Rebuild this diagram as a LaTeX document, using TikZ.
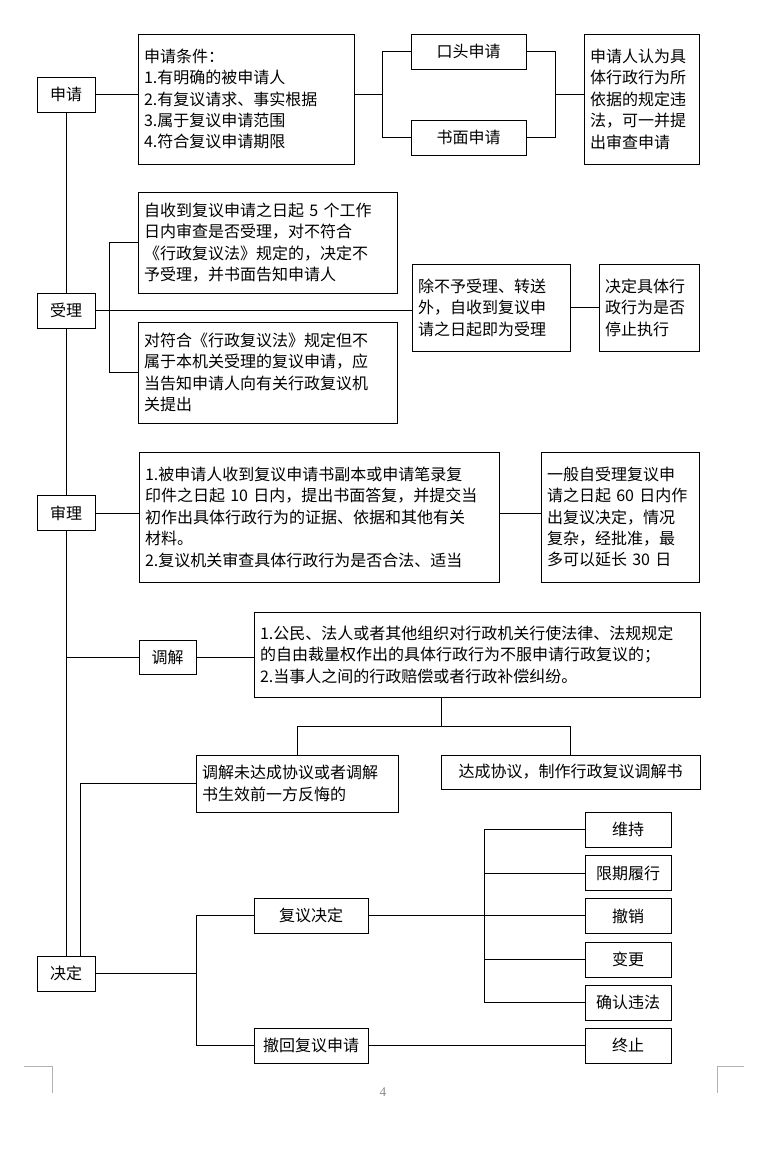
\documentclass[tikz,border=0pt]{standalone}
\usepackage{fontspec}
\setmainfont{Noto Sans CJK SC}
\newfontfamily\pagenumfont{Liberation Serif}
\usepackage{tikz}
\pgfdeclarelayer{edgelayer}
\pgfdeclarelayer{nodelayer}
\pgfsetlayers{edgelayer,nodelayer,main}
\tikzstyle{none}=[inner sep=0mm]
\tikzstyle{box}=[draw=black,fill=white,inner xsep=4.5pt,inner ysep=2pt,font=\fontsize{12}{16.1}\selectfont]
\tikzstyle{textbox}=[box,align=left]
\tikzstyle{tag}=[box,minimum width=43.5pt,minimum height=26.25pt]
\tikzstyle{leaf}=[box,minimum width=64.5pt,minimum height=26.25pt]
\tikzstyle{stepbox}=[box,minimum width=85.5pt,minimum height=26.25pt]
\tikzstyle{pagemark}=[draw=black!30,line width=0.6pt]
\begin{document}
\begin{tikzpicture}[x=0.75pt,y=-0.75pt,line width=0.8pt]
	\useasboundingbox (0,0) rectangle (764,1159);
	\begin{pgfonlayer}{nodelayer}
		\node [style=tag] (0) at (66, 94.5) {申请};
		\node [style=textbox, text width=153pt, minimum height=97.5pt] (1) at (246, 99) {申请条件：\\1.有明确的被申请人\\2.有复议请求、事实根据\\3.属于复议申请范围\\4.符合复议申请期限};
		\node [style=box, minimum width=86.25pt, minimum height=26.25pt] (2) at (468.5, 51.5) {口头申请};
		\node [style=box, minimum width=86.25pt, minimum height=26.25pt] (3) at (468.5, 137.5) {书面申请};
		\node [style=textbox, text width=77.25pt, minimum height=97.5pt] (4) at (641.5, 99) {申请人认为具\\体行政行为所\\依据的规定违\\法，可一并提\\出审查申请};
		\node [style=tag] (5) at (66, 310.5) {受理};
		\node [style=textbox, text width=185.25pt, minimum height=75.75pt] (6) at (267.5, 242.5) {自收到复议申请之日起 5 个工作\\日内审查是否受理，对不符合\\《行政复议法》规定的，决定不\\予受理，并书面告知申请人};
		\node [style=textbox, text width=185.25pt, minimum height=75.75pt] (7) at (267.5, 372.5) {对符合《行政复议法》规定但不\\属于本机关受理的复议申请，应\\当告知申请人向有关行政复议机\\关提出};
		\node [style=textbox, text width=109.5pt, minimum height=65.25pt] (8) at (491, 307.5) {除不予受理、转送\\外，自收到复议申\\请之日起即为受理};
		\node [style=textbox, text width=66pt, minimum height=65.25pt] (9) at (649, 307.5) {决定具体行\\政行为是否\\停止执行};
		\node [style=tag] (10) at (66, 513) {审理};
		\node [style=textbox, text width=261pt, minimum height=97.5pt] (11) at (319, 517) {1.被申请人收到复议申请书副本或申请笔录复\\印件之日起 10 日内，提出书面答复，并提交当\\初作出具体行政行为的证据、依据和其他有关\\材料。\\2.复议机关审查具体行政行为是否合法、适当};
		\node [style=textbox, text width=109.5pt, minimum height=97.5pt] (12) at (620, 517) {一般自受理复议申\\请之日起 60 日内作\\出复议决定，情况\\复杂，经批准，最\\多可以延长 30 日};
		\node [style=tag, minimum width=42.75pt, minimum height=25.5pt] (13) at (167.5, 657) {调解};
		\node [style=textbox, text width=325.5pt, minimum height=63.75pt] (14) at (477, 654.5) {1.公民、法人或者其他组织对行政机关行使法律、法规规定\\的自由裁量权作出的具体行政行为不服申请行政复议的；\\2.当事人之间的行政赔偿或者行政补偿纠纷。};
		\node [style=textbox, text width=142.5pt, minimum height=42.75pt] (15) at (297, 783.5) {调解未达成协议或者调解\\书生效前一方反悔的};
		\node [style=box, minimum width=194.25pt, minimum height=25.5pt] (16) at (570.5, 772) {达成协议，制作行政复议调解书};
		\node [style=tag] (17) at (66, 973.5) {决定};
		\node [style=stepbox] (18) at (311, 915.5) {复议决定};
		\node [style=stepbox] (19) at (311, 1045.5) {撤回复议申请};
		\node [style=leaf] (20) at (628, 829.5) {维持};
		\node [style=leaf] (21) at (628, 873) {限期履行};
		\node [style=leaf] (22) at (628, 916) {撤销};
		\node [style=leaf] (23) at (628, 959.5) {变更};
		\node [style=leaf] (24) at (628, 1002.5) {确认违法};
		\node [style=leaf] (25) at (628, 1045.5) {终止};
		\node [style=none] (26) at (382, 94.5) {};
		\node [style=none] (27) at (555, 94.5) {};
		\node [style=none] (28) at (109, 310.5) {};
		\node [style=none] (29) at (66, 657) {};
		\node [style=none] (30) at (441.5, 726) {};
		\node [style=none] (31) at (80.5, 956) {};
		\node [style=none] (32) at (196, 973.5) {};
		\node [style=none] (33) at (484, 915.5) {};
		\node [style=none, text=black!45, font=\pagenumfont\fontsize{10}{11}\selectfont] (34) at (383, 1092) {4};
	\end{pgfonlayer}
	\begin{pgfonlayer}{edgelayer}
		\draw (0) to (5);
		\draw (5) to (10);
		\draw (10) to (17);
		\draw (0.east) to (0.east -| 1.west);
		\draw (1.east |- 26.center) to (26.center);
		\draw (26.center) |- (2.west);
		\draw (26.center) |- (3.west);
		\draw (2.east) -| (27.center);
		\draw (3.east) -| (27.center);
		\draw (27.center) to (4.west |- 27.center);
		\draw (5.east) to (5.east -| 8.west);
		\draw (28.center) |- (6.west);
		\draw (28.center) |- (7.west);
		\draw (8) to (9);
		\draw (10.east) to (10.east -| 11.west);
		\draw (11.east |- 10.east) to (10.east -| 12.west);
		\draw (29.center) to (13);
		\draw (13.east) to (13.east -| 14.west);
		\draw (14.south -| 30.center) to (30.center);
		\draw (30.center) -| (15.north);
		\draw (30.center) -| (16.north);
		\draw (15.west) -| (31.center);
		\draw (17.east) to (32.center);
		\draw (32.center) |- (18.west);
		\draw (32.center) |- (19.west);
		\draw (18.east) to (18.east -| 22.west);
		\draw (33.center |- 20.west) to (33.center |- 24.west);
		\draw (33.center |- 20.west) to (20.west);
		\draw (33.center |- 21.west) to (21.west);
		\draw (33.center |- 23.west) to (23.west);
		\draw (33.center |- 24.west) to (24.west);
		\draw (19) to (25);
	\end{pgfonlayer}
	% page corner marks
	\draw [style=pagemark] (24, 1066) -- (52, 1066) -- (52, 1093);
	\draw [style=pagemark] (744, 1066) -- (717, 1066) -- (717, 1093);
\end{tikzpicture}
\end{document}
